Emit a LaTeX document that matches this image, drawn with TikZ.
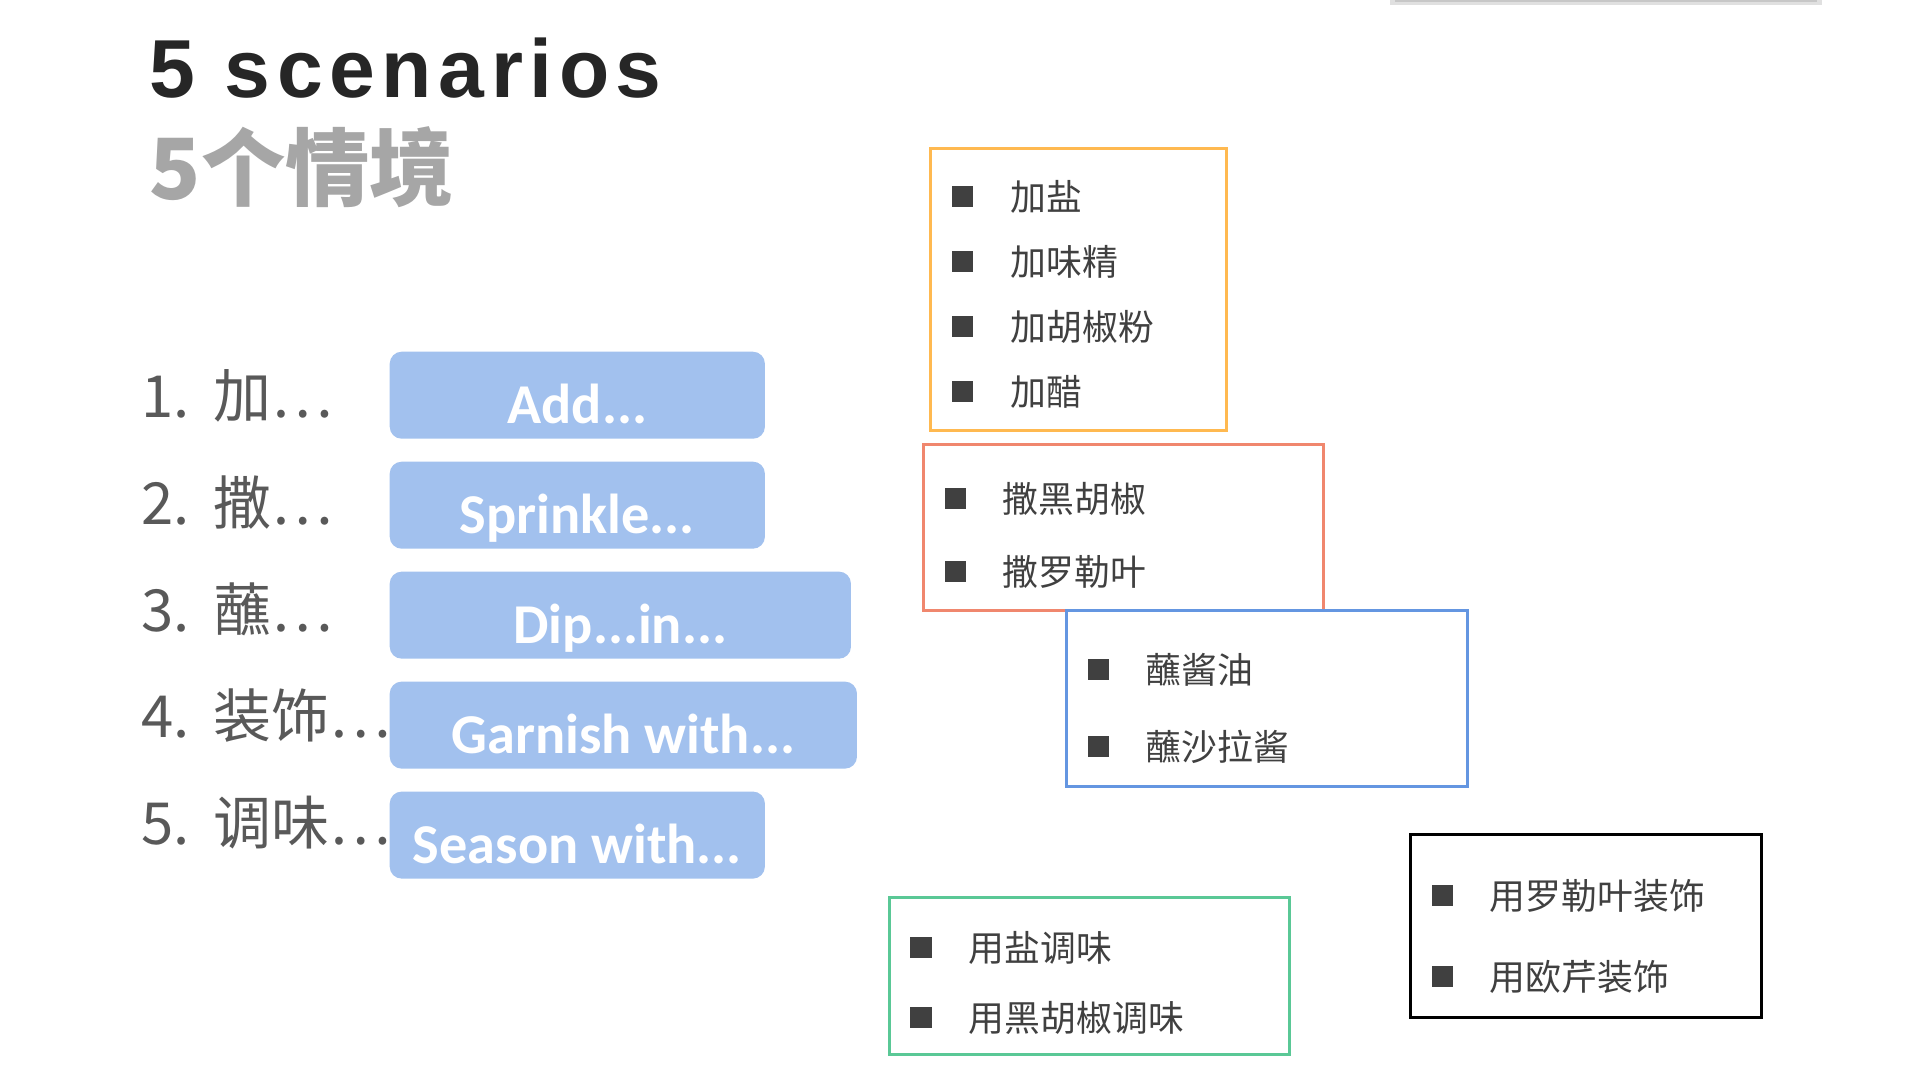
\documentclass[tikz,border=0pt]{standalone}
\usepackage{fontspec}
\setmainfont{Noto Sans CJK SC}
\newfontfamily\titlefont[LetterSpace=8]{Liberation Sans}
\newfontfamily\tagfont{Carlito}
\usetikzlibrary{positioning}
\definecolor{mytitle}{RGB}{38,38,38}
\definecolor{mysub}{RGB}{166,166,166}
\definecolor{mylist}{RGB}{89,89,89}
\definecolor{mydark}{RGB}{64,64,64}
\definecolor{tagblue}{RGB}{162,193,238}
\definecolor{myorange}{RGB}{255,185,80}
\definecolor{mysalmon}{RGB}{240,135,110}
\definecolor{myblue}{RGB}{100,150,225}
\definecolor{mygreen}{RGB}{90,200,150}
\tikzset{
  tagbox/.style={rectangle, fill=tagblue, rounded corners=0.12cm,
    minimum height=0.87cm, inner sep=0pt, text=white,
    font=\tagfont\bfseries\fontsize{16}{19}\selectfont,
    text height=0.56cm, text depth=0cm},
  rowlabel/.style={anchor=west, inner sep=0pt, text=mylist,
    font=\fontsize{16.5}{20}\selectfont},
  frame/.style={rectangle, anchor=north west, inner sep=0pt,
    line width=0.77pt},
  bullet/.style={rectangle, fill=mydark, minimum size=0.21cm, inner sep=0pt},
  itemtxt/.style={inner sep=0pt, text=mydark,
    font=\fontsize{10.2}{12}\selectfont}
}

\begin{document}
\begin{tikzpicture}[x=0.01cm, y=-0.01cm, node distance=0.215cm and 0.36cm]
  \useasboundingbox (0,0) rectangle (1920,1080);

  % top bar
  \fill[black!12] (1390,0) rectangle (1822,5);
  \fill[black!22] (1395,0) rectangle (1817,2.5);

  % Title
  \node[anchor=base west, inner sep=0pt, text=mytitle,
    font=\titlefont\bfseries\fontsize{23.4}{28}\selectfont] (title) at (149,98) {5 scenarios};
  \node[anchor=base west, inner sep=0pt, text=mysub,
    font=\bfseries\fontsize{24}{29}\selectfont] (subtitle) at (149,200) {5个情境};

  % Row labels
  \node[rowlabel] (lab1) at (141,396) {1.\hspace{0.1em} 加…};
  \node[rowlabel] (lab2) at (141,503) {2.\hspace{0.1em} 撒…};
  \node[rowlabel] (lab3) at (141,609) {3.\hspace{0.1em} 蘸…};
  \node[rowlabel] (lab4) at (141,716) {4.\hspace{0.1em} 装饰…};
  \node[rowlabel] (lab5) at (141,823) {5.\hspace{0.1em} 调味…};

  % Blue tags
  \node[tagbox, minimum width=3.75cm, anchor=north west] (add) at (389,351) {Add...};
  \node[tagbox, minimum width=3.75cm, below=of add.south west, anchor=north west] (sprinkle) {Sprinkle...};
  \node[tagbox, minimum width=4.61cm, below=of sprinkle.south west, anchor=north west] (dip) {Dip...in...};
  \node[tagbox, minimum width=4.67cm, below=of dip.south west, anchor=north west] (garnish) {Garnish with...};
  \node[tagbox, minimum width=3.75cm, below=of garnish.south west, anchor=north west] (season) {Season with...};

  % Box: add
  \node[frame, draw=myorange, minimum width=2.96cm, minimum height=2.82cm] (addframe) at (929,147) {};
  \node[bullet] (ab1) at (962.5,197) {};
  \node[bullet] (ab2) at (962.5,262) {};
  \node[bullet] (ab3) at (962.5,327) {};
  \node[bullet] (ab4) at (962.5,392) {};
  \node[itemtxt, right=of ab1] (at1) {加盐};
  \node[itemtxt, right=of ab2] (at2) {加味精};
  \node[itemtxt, right=of ab3] (at3) {加胡椒粉};
  \node[itemtxt, right=of ab4] (at4) {加醋};

  % Box: sprinkle
  \node[frame, draw=mysalmon, minimum width=4.00cm, minimum height=1.66cm] (sprframe) at (922,443) {};
  \node[bullet] (sb1) at (955,499) {};
  \node[bullet] (sb2) at (955,572) {};
  \node[itemtxt, right=of sb1] (st1) {撒黑胡椒};
  \node[itemtxt, right=of sb2] (st2) {撒罗勒叶};

  % Box: dip
  \node[frame, draw=myblue, minimum width=4.01cm, minimum height=1.76cm] (dipframe) at (1065,609) {};
  \node[bullet] (db1) at (1098,670) {};
  \node[bullet] (db2) at (1098,747) {};
  \node[itemtxt, right=of db1] (dt1) {蘸酱油};
  \node[itemtxt, right=of db2] (dt2) {蘸沙拉酱};

  % Box: season
  \node[frame, draw=mygreen, minimum width=4.00cm, minimum height=1.57cm] (seaframe) at (888,896) {};
  \node[bullet] (eb1) at (921,948) {};
  \node[bullet] (eb2) at (921,1018) {};
  \node[itemtxt, right=of eb1] (et1) {用盐调味};
  \node[itemtxt, right=of eb2] (et2) {用黑胡椒调味};

  % Box: garnish
  \node[frame, draw=black, line width=0.85pt, minimum width=3.51cm, minimum height=1.83cm] (garframe) at (1409,833) {};
  \node[bullet] (gb1) at (1442,896) {};
  \node[bullet] (gb2) at (1442,977) {};
  \node[itemtxt, right=of gb1] (gt1) {用罗勒叶装饰};
  \node[itemtxt, right=of gb2] (gt2) {用欧芹装饰};
\end{tikzpicture}
\end{document}
